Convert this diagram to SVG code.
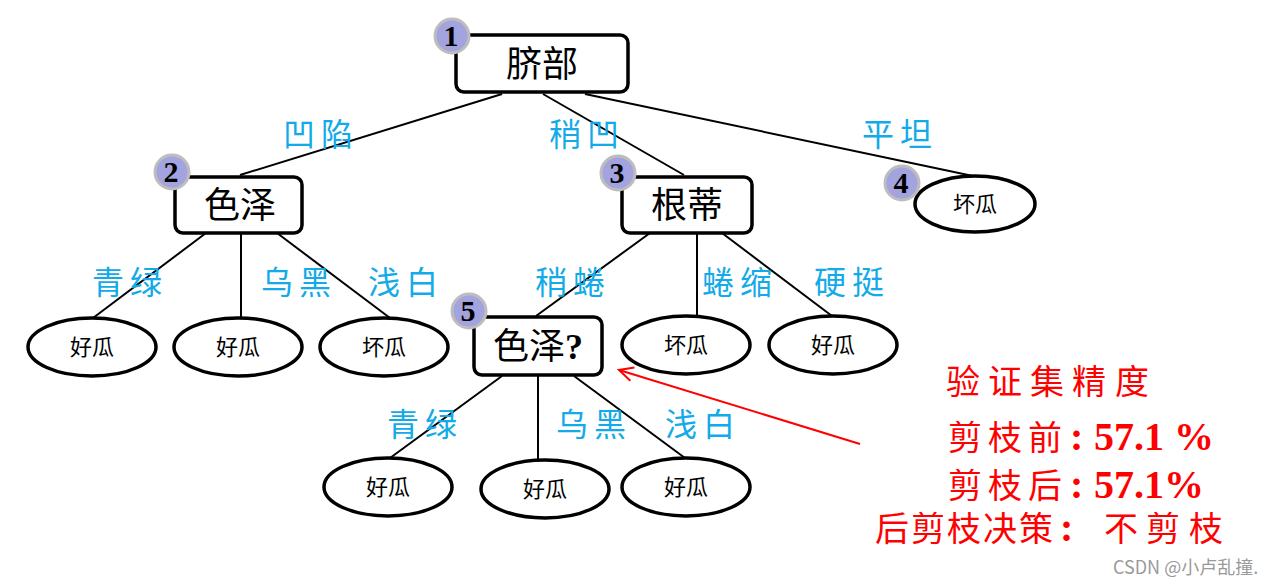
<svg xmlns="http://www.w3.org/2000/svg" width="1278" height="586" viewBox="0 0 1278 586">
<defs>
<style>
.box{fill:#fff;stroke:#000;stroke-width:3.5}
.leaf{fill:#fff;stroke:#000;stroke-width:3.5}
.edge{stroke:#000;stroke-width:2;fill:none}
.bt{font-family:"Liberation Serif","Noto Sans CJK SC",serif;font-size:36px;fill:#000;text-anchor:middle}
.lt{font-family:"Liberation Serif","Noto Sans CJK SC",serif;font-size:22px;fill:#000;text-anchor:middle}
.lab{font-family:"Noto Sans CJK SC",sans-serif;font-size:32px;fill:#12aae8;text-anchor:middle;letter-spacing:6px}
.badge{fill:#a3a3e0;stroke:#bdbdbd;stroke-width:3}
.bn{font-family:"Liberation Serif",serif;font-size:30px;font-weight:bold;fill:#000;text-anchor:middle}
.red{font-family:"Liberation Serif","Noto Sans CJK SC",serif;font-size:34px;fill:#ff0000}
.num{font-family:"Liberation Serif",serif;font-size:40px;font-weight:bold;fill:#ff0000}
</style>
<marker id="arr" markerWidth="20" markerHeight="20" refX="15" refY="8" orient="auto" markerUnits="userSpaceOnUse">
<path d="M1,1 L15,8 L1,15" fill="none" stroke="#ff0000" stroke-width="2"/>
</marker>
</defs>
<rect width="1278" height="586" fill="#fff"/>
<g id="connectors">
<line class="edge" x1="502" y1="94" x2="240" y2="175"/>
<line class="edge" x1="543" y1="94" x2="684" y2="175"/>
<line class="edge" x1="585" y1="94" x2="973" y2="176"/>
<line class="edge" x1="206" y1="233" x2="93" y2="318"/>
<line class="edge" x1="241" y1="233" x2="241" y2="318"/>
<line class="edge" x1="277" y1="233" x2="390" y2="318"/>
<line class="edge" x1="650" y1="233" x2="536" y2="316"/>
<line class="edge" x1="697" y1="233" x2="697" y2="316"/>
<line class="edge" x1="722" y1="233" x2="832" y2="316"/>
<line class="edge" x1="502" y1="376" x2="390" y2="458"/>
<line class="edge" x1="538" y1="376" x2="538" y2="460"/>
<line class="edge" x1="574" y1="376" x2="685" y2="458"/>
<line x1="860" y1="444" x2="619" y2="370" stroke="#ff0000" stroke-width="2" marker-end="url(#arr)"/>
</g>
<g id="edge-labels">
<text class="lab" x="321" y="146">凹陷</text>
<text class="lab" x="587" y="146">稍凹</text>
<text class="lab" x="900" y="146">平坦</text>
<text class="lab" x="130" y="294">青绿</text>
<text class="lab" x="299" y="294">乌黑</text>
<text class="lab" x="406" y="294">浅白</text>
<text class="lab" x="573" y="294">稍蜷</text>
<text class="lab" x="740" y="294">蜷缩</text>
<text class="lab" x="852" y="294">硬挺</text>
<text class="lab" x="425" y="436">青绿</text>
<text class="lab" x="594" y="436">乌黑</text>
<text class="lab" x="703" y="436">浅白</text>
</g>
<g id="n1">
<rect class="box" x="456" y="35" width="172" height="57" rx="8"/>
<text class="bt" x="542" y="77">脐部</text>
<circle class="badge" cx="452" cy="36" r="17"/>
<text class="bn" x="451" y="46">1</text>
</g>
<g id="n2">
<rect class="box" x="175" y="177" width="127" height="56" rx="8"/>
<text class="bt" x="240" y="218">色泽</text>
<circle class="badge" cx="172" cy="172" r="17"/>
<text class="bn" x="171" y="182">2</text>
</g>
<g id="n3">
<rect class="box" x="622" y="177" width="130" height="56" rx="8"/>
<text class="bt" x="687" y="218">根蒂</text>
<circle class="badge" cx="618" cy="173" r="17"/>
<text class="bn" x="617" y="183">3</text>
</g>
<g id="n4">
<ellipse class="leaf" cx="975" cy="204" rx="60" ry="28"/>
<text class="lt" x="975" y="212">坏瓜</text>
<circle class="badge" cx="902" cy="183" r="17"/>
<text class="bn" x="901" y="193">4</text>
</g>
<g id="n5">
<rect class="box" x="474" y="317" width="128" height="58" rx="8"/>
<text class="bt" x="538" y="359">色泽<tspan font-weight="bold">?</tspan></text>
<circle class="badge" cx="469" cy="311" r="17"/>
<text class="bn" x="468" y="321">5</text>
</g>
<g id="l1"><ellipse class="leaf" cx="92" cy="347" rx="64" ry="29"/><text class="lt" x="92" y="355">好瓜</text></g>
<g id="l2"><ellipse class="leaf" cx="238" cy="347" rx="64" ry="29"/><text class="lt" x="238" y="355">好瓜</text></g>
<g id="l3"><ellipse class="leaf" cx="384" cy="347" rx="64" ry="29"/><text class="lt" x="384" y="355">坏瓜</text></g>
<g id="l4"><ellipse class="leaf" cx="686" cy="345" rx="64" ry="29"/><text class="lt" x="686" y="353">坏瓜</text></g>
<g id="l5"><ellipse class="leaf" cx="833" cy="345" rx="64" ry="29"/><text class="lt" x="833" y="353">好瓜</text></g>
<g id="l6"><ellipse class="leaf" cx="388" cy="487" rx="64" ry="29"/><text class="lt" x="388" y="495">好瓜</text></g>
<g id="l7"><ellipse class="leaf" cx="545" cy="489" rx="64" ry="29"/><text class="lt" x="545" y="497">好瓜</text></g>
<g id="l8"><ellipse class="leaf" cx="686" cy="487" rx="64" ry="29"/><text class="lt" x="686" y="495">好瓜</text></g>
<g id="note">
<text class="red" x="946 988 1030 1072 1115" y="394">验证集精度</text>
<text class="red" x="948 988 1028" y="450">剪枝前</text>
<text class="num" x="1070" y="450">:</text>
<text class="num" x="1094" y="450">57.1 %</text>
<text class="red" x="948 988 1028" y="498">剪枝后</text>
<text class="num" x="1070" y="498">:</text>
<text class="num" x="1094" y="498">57.1%</text>
<text class="red" x="875 911 947 983 1019" y="541">后剪枝决策</text>
<text class="num" x="1060" y="541">:</text>
<text class="red" x="1104 1146 1189" y="541">不剪枝</text>
</g>
<text x="1113" y="574" font-family="'Noto Sans CJK SC',sans-serif" font-size="18" fill="#9a9a9a">CSDN @小卢乱撞.</text>
</svg>
